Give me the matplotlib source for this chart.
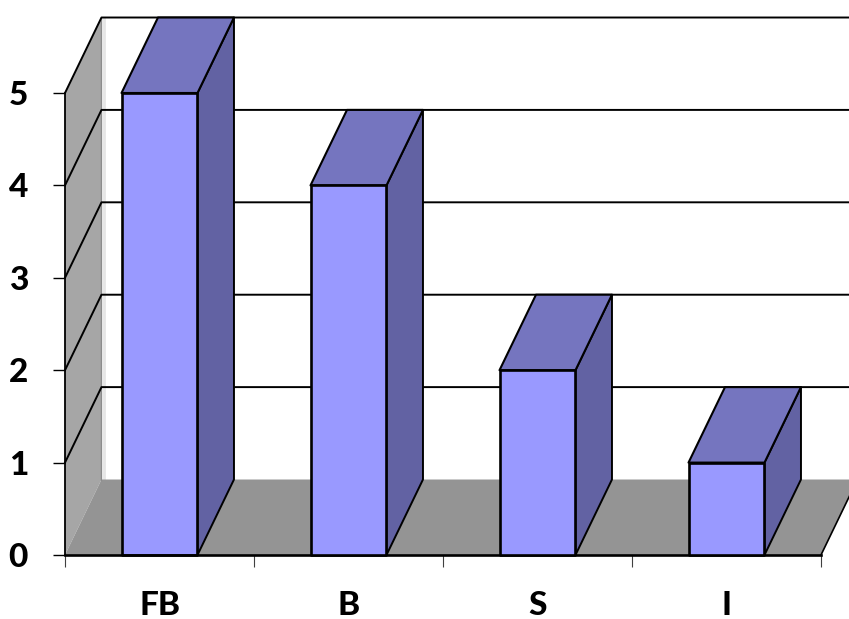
import matplotlib
matplotlib.use("Agg")
import matplotlib.pyplot as plt
from matplotlib.patches import Polygon

categories = ["FB", "B", "S", "I"]
values = [5, 4, 2, 1]
y_ticks = [0, 1, 2, 3, 4, 5]

# oblique depth of the fake 3D box, in data units
DX = 0.193
DY = 0.817
BAR_W = 0.402

WALL = "#a6a6a6"
FLOOR = "#949494"
FRONT = "#9999ff"
TOP = "#7575bf"
SIDE = "#6262a3"

plt.rcParams["font.family"] = ["Lato", "DejaVu Sans"]

fig = plt.figure(figsize=(8.49, 6.19), dpi=100)
ax = fig.add_axes([65 / 849, (619 - 555) / 619, 756 / 849, 462 / 619])
ax.set_xlim(0, 4)
ax.set_ylim(0, 5)
ax.patch.set_visible(False)
ax.spines["top"].set_visible(False)
ax.spines["right"].set_visible(False)
ax.spines["left"].set_linewidth(1.3)
ax.spines["bottom"].set_linewidth(1.9)


def add_poly(pts, color, edge="none", lw=0.0, z=1):
    ax.add_patch(Polygon(pts, closed=True, facecolor=color, edgecolor=edge,
                         linewidth=lw, zorder=z, clip_on=False, joinstyle="round"))


# walls and floor
add_poly([(0, 0), (DX, DY), (DX, 5 + DY), (0, 5)], WALL)
add_poly([(0, 0), (4, 0), (4 + DX, DY), (DX, DY)], FLOOR)
ax.plot([4, 4 + DX], [0, DY], color="black", lw=1.2, zorder=1.5, clip_on=False)
ax.plot([DX, DX], [DY, 5 + DY], color="#8c8c8c", lw=1.0, zorder=1.2, clip_on=False)
ax.plot([DX + 0.012, DX + 0.012], [DY, 5 + DY], color="#e6e6e6", lw=2.0, zorder=0.9, clip_on=False)

# gridlines run along the side wall and then the back wall
for t in y_ticks[1:]:
    ax.plot([0, DX, 4 + DX], [t, t + DY, t + DY], color="black", lw=1.4,
            zorder=1.5, clip_on=False)

# bars
for i, v in enumerate(values):
    x0 = i + 0.5 - BAR_W / 2
    x1 = x0 + BAR_W
    add_poly([(x1, 0), (x1 + DX, DY), (x1 + DX, v + DY), (x1, v)], SIDE, "black", 1.4, 2 + i)
    add_poly([(x0, v), (x1, v), (x1 + DX, v + DY), (x0 + DX, v + DY)], TOP, "black", 1.5, 2 + i)
    add_poly([(x0, 0), (x1, 0), (x1, v), (x0, v)], FRONT, "black", 1.9, 2.1 + i)

ax.set_yticks(y_ticks)
ax.set_xticks(range(len(categories) + 1))
ax.set_xticklabels([])
ax.set_xticks([i + 0.5 for i in range(len(categories))], minor=True)
ax.set_xticklabels(categories, minor=True)
ax.tick_params(axis="y", length=8.6, width=1.0, pad=18, labelsize=24)
ax.tick_params(axis="x", which="major", length=8.6, width=0.8, color="#404040")
ax.tick_params(axis="x", which="minor", length=0, pad=26, labelsize=24)
for lab in ax.get_yticklabels() + ax.get_xticklabels(minor=True):
    lab.set_fontweight(900)

fig.savefig("out.png", dpi=100)
plt.close(fig)
